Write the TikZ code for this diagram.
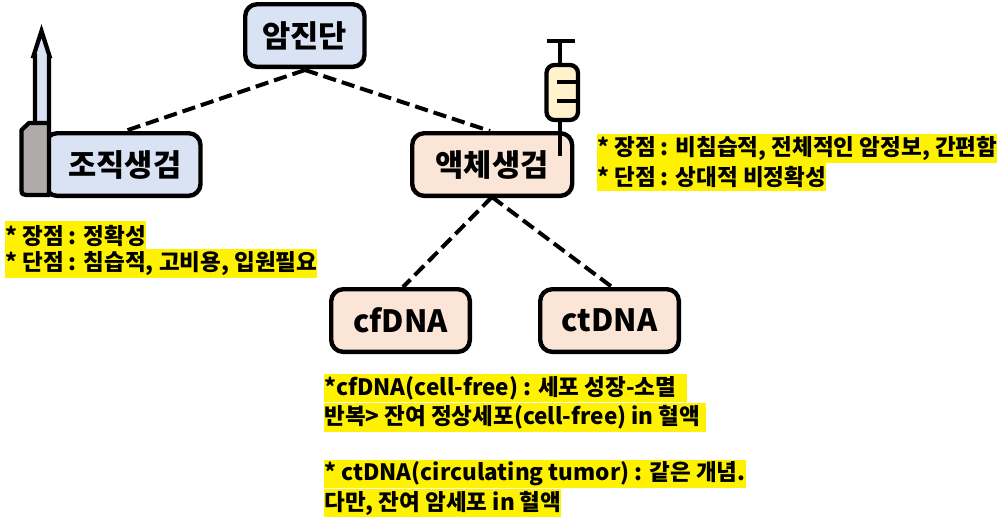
\documentclass[tikz,border=0pt]{standalone}
\usepackage{fontspec}
\setmainfont{Noto Sans CJK KR}
\definecolor{bluefill}{HTML}{DAE3F3}
\definecolor{peach}{HTML}{FBE5D6}
\definecolor{greyfill}{HTML}{AEAAAA}
\definecolor{creamfill}{HTML}{FFF2CC}
\tikzset{
  boxnode/.style={draw=black,line width=3.3pt,rounded corners=9pt,anchor=north west,inner sep=0pt,align=center,font=\fontsize{23}{27}\selectfont\bfseries},
  dashline/.style={draw=black,line width=3pt,dash pattern=on 10pt off 4.5pt},
  iconline/.style={draw=black,line width=3.2pt},
  hl/.style={fill=yellow,anchor=west,inner sep=0pt,minimum height=21.6pt,font=\fontsize{16.9}{20}\selectfont\bfseries},
}
\begin{document}
\begin{tikzpicture}[x=0.75pt,y=-0.75pt]
\useasboundingbox (0,0) rectangle (997,522);
% highlighted texts
\node[hl] (t1) at (5,235.5) {* 장점 : 정확성};
\node[hl] (t2) at (5,263.5) {* 단점 : 침습적, 고비용, 입원필요};
\node[hl] (t3) at (597,148.5) {* 장점 : 비침습적, 전체적인 암정보, 간편함};
\node[hl] (t4) at (597,177) {* 단점 : 상대적 비정확성};
\node[hl] (t5) at (324,388) {*cfDNA(cell-free) : 세포 성장-소멸\hspace*{8pt}};
\node[hl] (t6) at (324,417.5) {반복> 잔여 정상세포(cell-free) in 혈액\hspace*{4.5pt}};
\node[hl] (t7) at (324,474) {* ctDNA(circulating tumor) : 같은 개념.};
\node[hl] (t8) at (324,503) {다만, 잔여 암세포 in 혈액};
% boxes
\node[boxnode,fill=bluefill,minimum width=116.5pt,minimum height=47pt] (tissue) at (43,131) {\hspace*{3pt}조직생검};
\node[boxnode,fill=bluefill,minimum width=89.5pt,minimum height=47pt] (root) at (243,2) {암진단};
\node[boxnode,fill=peach,minimum width=120pt,minimum height=47pt] (liquid) at (410,131) {액체생검};
\node[boxnode,fill=peach,minimum width=104pt,minimum height=47pt] (cf) at (329,287) {cfDNA};
\node[boxnode,fill=peach,minimum width=104pt,minimum height=47pt] (ct) at (538,287) {ctDNA};
% connectors
\coordinate (rootb) at (305,70);
\coordinate (tissuet) at (125,131);
\coordinate (liquidt) at (490,131);
\coordinate (liquidb) at (492,197);
\coordinate (cft) at (403,287);
\coordinate (ctt) at (612,287);
\draw[dashline] (rootb) -- (tissuet);
\draw[dashline] (rootb) -- (liquidt);
\draw[dashline] (liquidb) -- (cft);
\draw[dashline] (liquidb) -- (ctt);
% biopsy needle
\draw[iconline,fill=bluefill,miter limit=10] (35,123) -- (35,56) -- (33.5,56) -- (41.5,31) -- (49.5,56) -- (49,56) -- (49,123);
\draw[iconline,fill=greyfill,line join=round] (49,123) -- (29,123) -- (21.5,130) -- (21.5,190) .. controls (21.5,194) and (23,195) .. (26,195) -- (49,195) -- cycle;
% syringe
\draw[iconline,line width=3.3pt] (547,41) -- (575,41);
\draw[iconline] (560,41) -- (560,65);
\draw[iconline,fill=creamfill,rounded corners=6pt] (546.5,65) rectangle (578,120);
\draw[iconline] (557,82) -- (577,82);
\draw[iconline] (557,101) -- (577,101);
\draw[iconline] (560,120) -- (560,156);
\end{tikzpicture}
\end{document}
